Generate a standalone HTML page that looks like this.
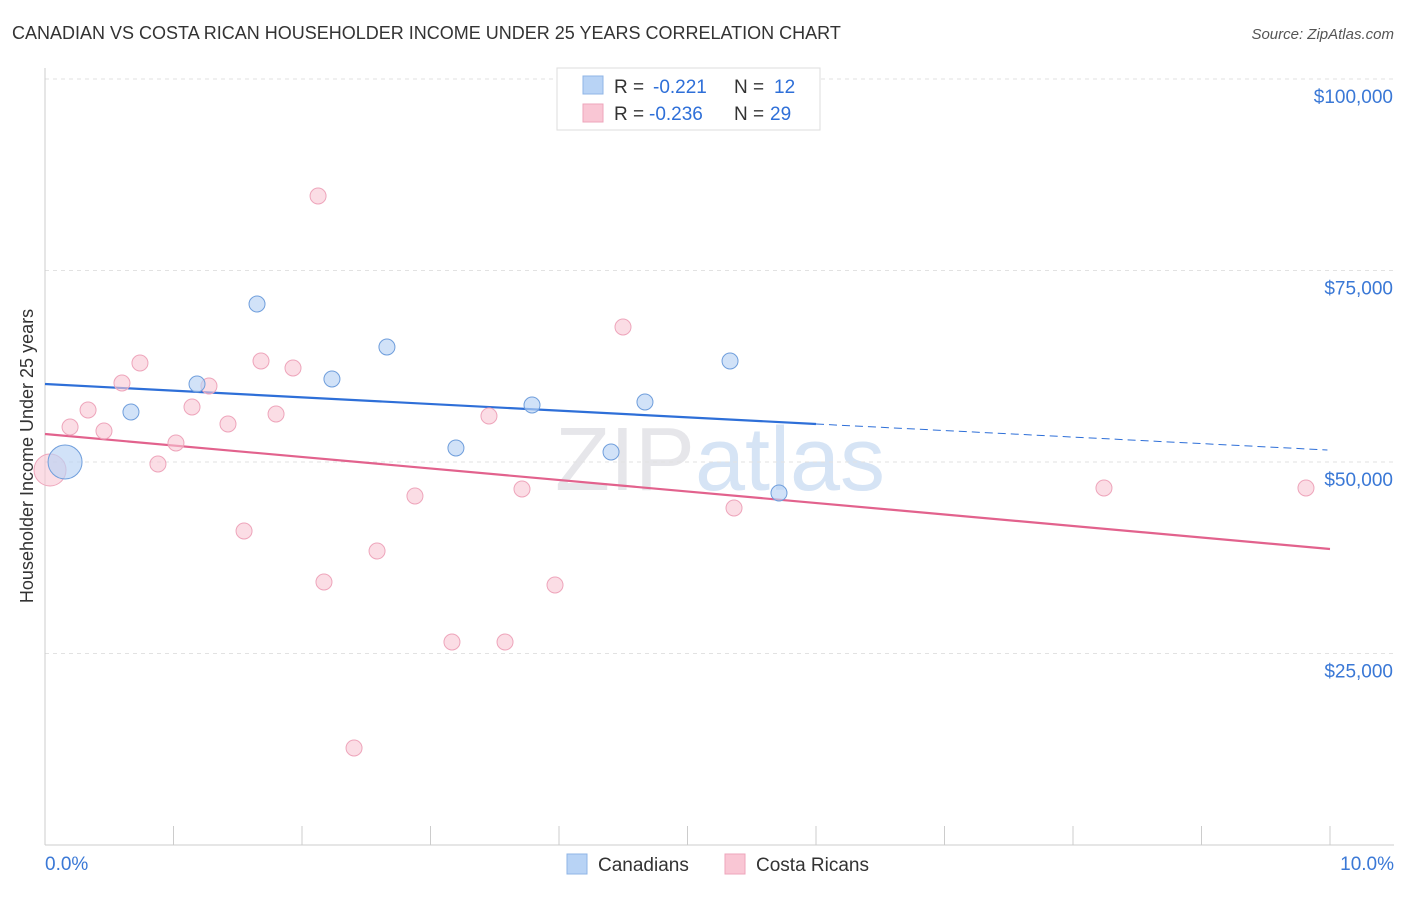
<!DOCTYPE html>
<html><head><meta charset="utf-8"><style>
body{margin:0;background:#fff;font-family:"Liberation Sans",sans-serif;}
svg text{font-family:"Liberation Sans",sans-serif;}
</style></head><body>
<svg id="chart" width="1406" height="892" xmlns="http://www.w3.org/2000/svg">
<text x="12" y="39" font-size="18" fill="#333">CANADIAN VS COSTA RICAN HOUSEHOLDER INCOME UNDER 25 YEARS CORRELATION CHART</text>
<text x="1394" y="39" font-size="15" fill="#555" text-anchor="end" font-style="italic">Source: ZipAtlas.com</text>
<text x="720" y="490" font-size="90" fill="#e6e6ea" text-anchor="middle" font-family="Liberation Serif">ZIP<tspan fill="#d6e4f5" font-family="Liberation Sans">atlas</tspan></text>
<text transform="translate(33,456) rotate(-90)" font-size="18" fill="#333" text-anchor="middle">Householder Income Under 25 years</text>
<g id="grid"></g><g id="axes"></g><g id="lines"></g><g id="points"></g>
<g>
<rect x="557" y="68" width="263" height="62" fill="#fff" stroke="#ddd"/>
<rect x="583" y="76" width="20" height="18" fill="#b8d3f5" stroke="#8fb5e6"/>
<rect x="583" y="104" width="20" height="18" fill="#f9c6d4" stroke="#eea5bb"/>
<text x="614" y="93" font-size="19" fill="#333">R =</text>
<text x="653" y="93" font-size="19" fill="#2e6fd8">-0.221</text>
<text x="734" y="93" font-size="19" fill="#333">N =</text>
<text x="774" y="93" font-size="19" fill="#2e6fd8">12</text>
<text x="614" y="120" font-size="19" fill="#333">R =</text>
<text x="649" y="120" font-size="19" fill="#2e6fd8">-0.236</text>
<text x="734" y="120" font-size="19" fill="#333">N =</text>
<text x="770" y="120" font-size="19" fill="#2e6fd8">29</text>
</g>
<g>
<rect x="567" y="854" width="20" height="20" fill="#b8d3f5" stroke="#8fb5e6"/>
<text x="598" y="871" font-size="19" fill="#333">Canadians</text>
<rect x="725" y="854" width="20" height="20" fill="#f9c6d4" stroke="#eea5bb"/>
<text x="756" y="871" font-size="19" fill="#333">Costa Ricans</text>
</g>
</svg>
<script>
const yTicks=[25000,50000,75000,100000];
const yTickLabels=["$25,000","$50,000","$75,000","$100,000"];
const xTickCount=[0,1,2,3,4,5,6,7,8,9,10];
const xTickLabels=["0.0%","10.0%"];
const canX=[0.156,0.669,1.183,1.650,2.233,2.661,3.198,3.790,4.405,4.669,5.331,5.712];
const canY=[50000,56527,60183,70627,60836,65013,51828,57441,51305,57833,63185,45953];
const crX=[0.039,0.195,0.335,0.459,0.599,0.739,0.879,1.019,1.144,1.276,1.424,1.549,1.681,1.798,1.930,2.125,2.171,2.405,2.584,2.879,3.167,3.455,3.580,3.712,3.969,4.498,5.362,8.241,9.813];
const crY=[48956,54569,56789,54047,60313,62924,49739,52480,57180,59922,54961,40992,63185,56266,62272,84726,34334,12663,38381,45561,26501,56005,26501,46475,33943,67624,43995,46606,46606];
const canTrend=[[0,60183],[6.0,54961],[9.98,51567]];
const crTrend=[[0,53655],[10,38642]];
const NS="http://www.w3.org/2000/svg";
const sx=v=>45+v*128.5, sy=v=>845-v/100000*766;
function mk(t,a,p){const e=document.createElementNS(NS,t);for(const k in a)e.setAttribute(k,a[k]);p.appendChild(e);return e;}
const grid=document.getElementById('grid'),axes=document.getElementById('axes'),lines=document.getElementById('lines'),pts=document.getElementById('points');
yTicks.forEach((t,i)=>{
 const l=mk('line',{x1:45,x2:1394,y1:sy(t),y2:sy(t),stroke:'#e2e2e2','stroke-dasharray':'4,4'},grid);
 
 
 const tx=mk('text',{x:1393,y:sy(t)+24,'font-size':19,fill:'#3a78d6','text-anchor':'end'},axes);
 tx.textContent=yTickLabels[i];
 
 
});
const ya=mk('line',{x1:45,x2:45,y1:68,y2:845,stroke:'#ccc'},axes);


const xa=mk('line',{x1:45,x2:1394,y1:845,y2:845,stroke:'#ccc'},axes);


xTickCount.forEach(t=>{
 const l=mk('line',{x1:sx(t),x2:sx(t),y1:826,y2:845,stroke:'#ccc'},axes);
 
 
});
[[0,'start',45],[10,'end',1394]].forEach((d,i)=>{
 const tx=mk('text',{x:d[2],y:870,'font-size':19,fill:'#3a78d6','text-anchor':d[1]},axes);
 tx.textContent=xTickLabels[i];
 
 
});
const b1=mk('line',{x1:sx(canTrend[0][0]),y1:sy(canTrend[0][1]),x2:sx(canTrend[1][0]),y2:sy(canTrend[1][1]),stroke:'#2e6fd8','stroke-width':2.2},lines);


const b2=mk('line',{x1:sx(canTrend[1][0]),y1:sy(canTrend[1][1]),x2:sx(canTrend[2][0]),y2:sy(canTrend[2][1]),stroke:'#2e6fd8','stroke-width':1,'stroke-dasharray':'8,5'},lines);


const p1=mk('line',{x1:sx(crTrend[0][0]),y1:sy(crTrend[0][1]),x2:sx(crTrend[1][0]),y2:sy(crTrend[1][1]),stroke:'#e2628d','stroke-width':2.2},lines);


crX.forEach((x,i)=>{
 const c=mk('circle',{cx:sx(x),cy:sy(crY[i]),r:i==0?16:8,fill:'#f9c6d4','fill-opacity':0.6,stroke:'#eea5bb','stroke-width':1},pts);
 
 
});
canX.forEach((x,i)=>{
 const c=mk('circle',{cx:sx(x),cy:sy(canY[i]),r:i==0?17:8,fill:'#b8d3f5','fill-opacity':0.65,stroke:'#6f9edc','stroke-width':1},pts);
 
 
});
</script>
</body></html>
